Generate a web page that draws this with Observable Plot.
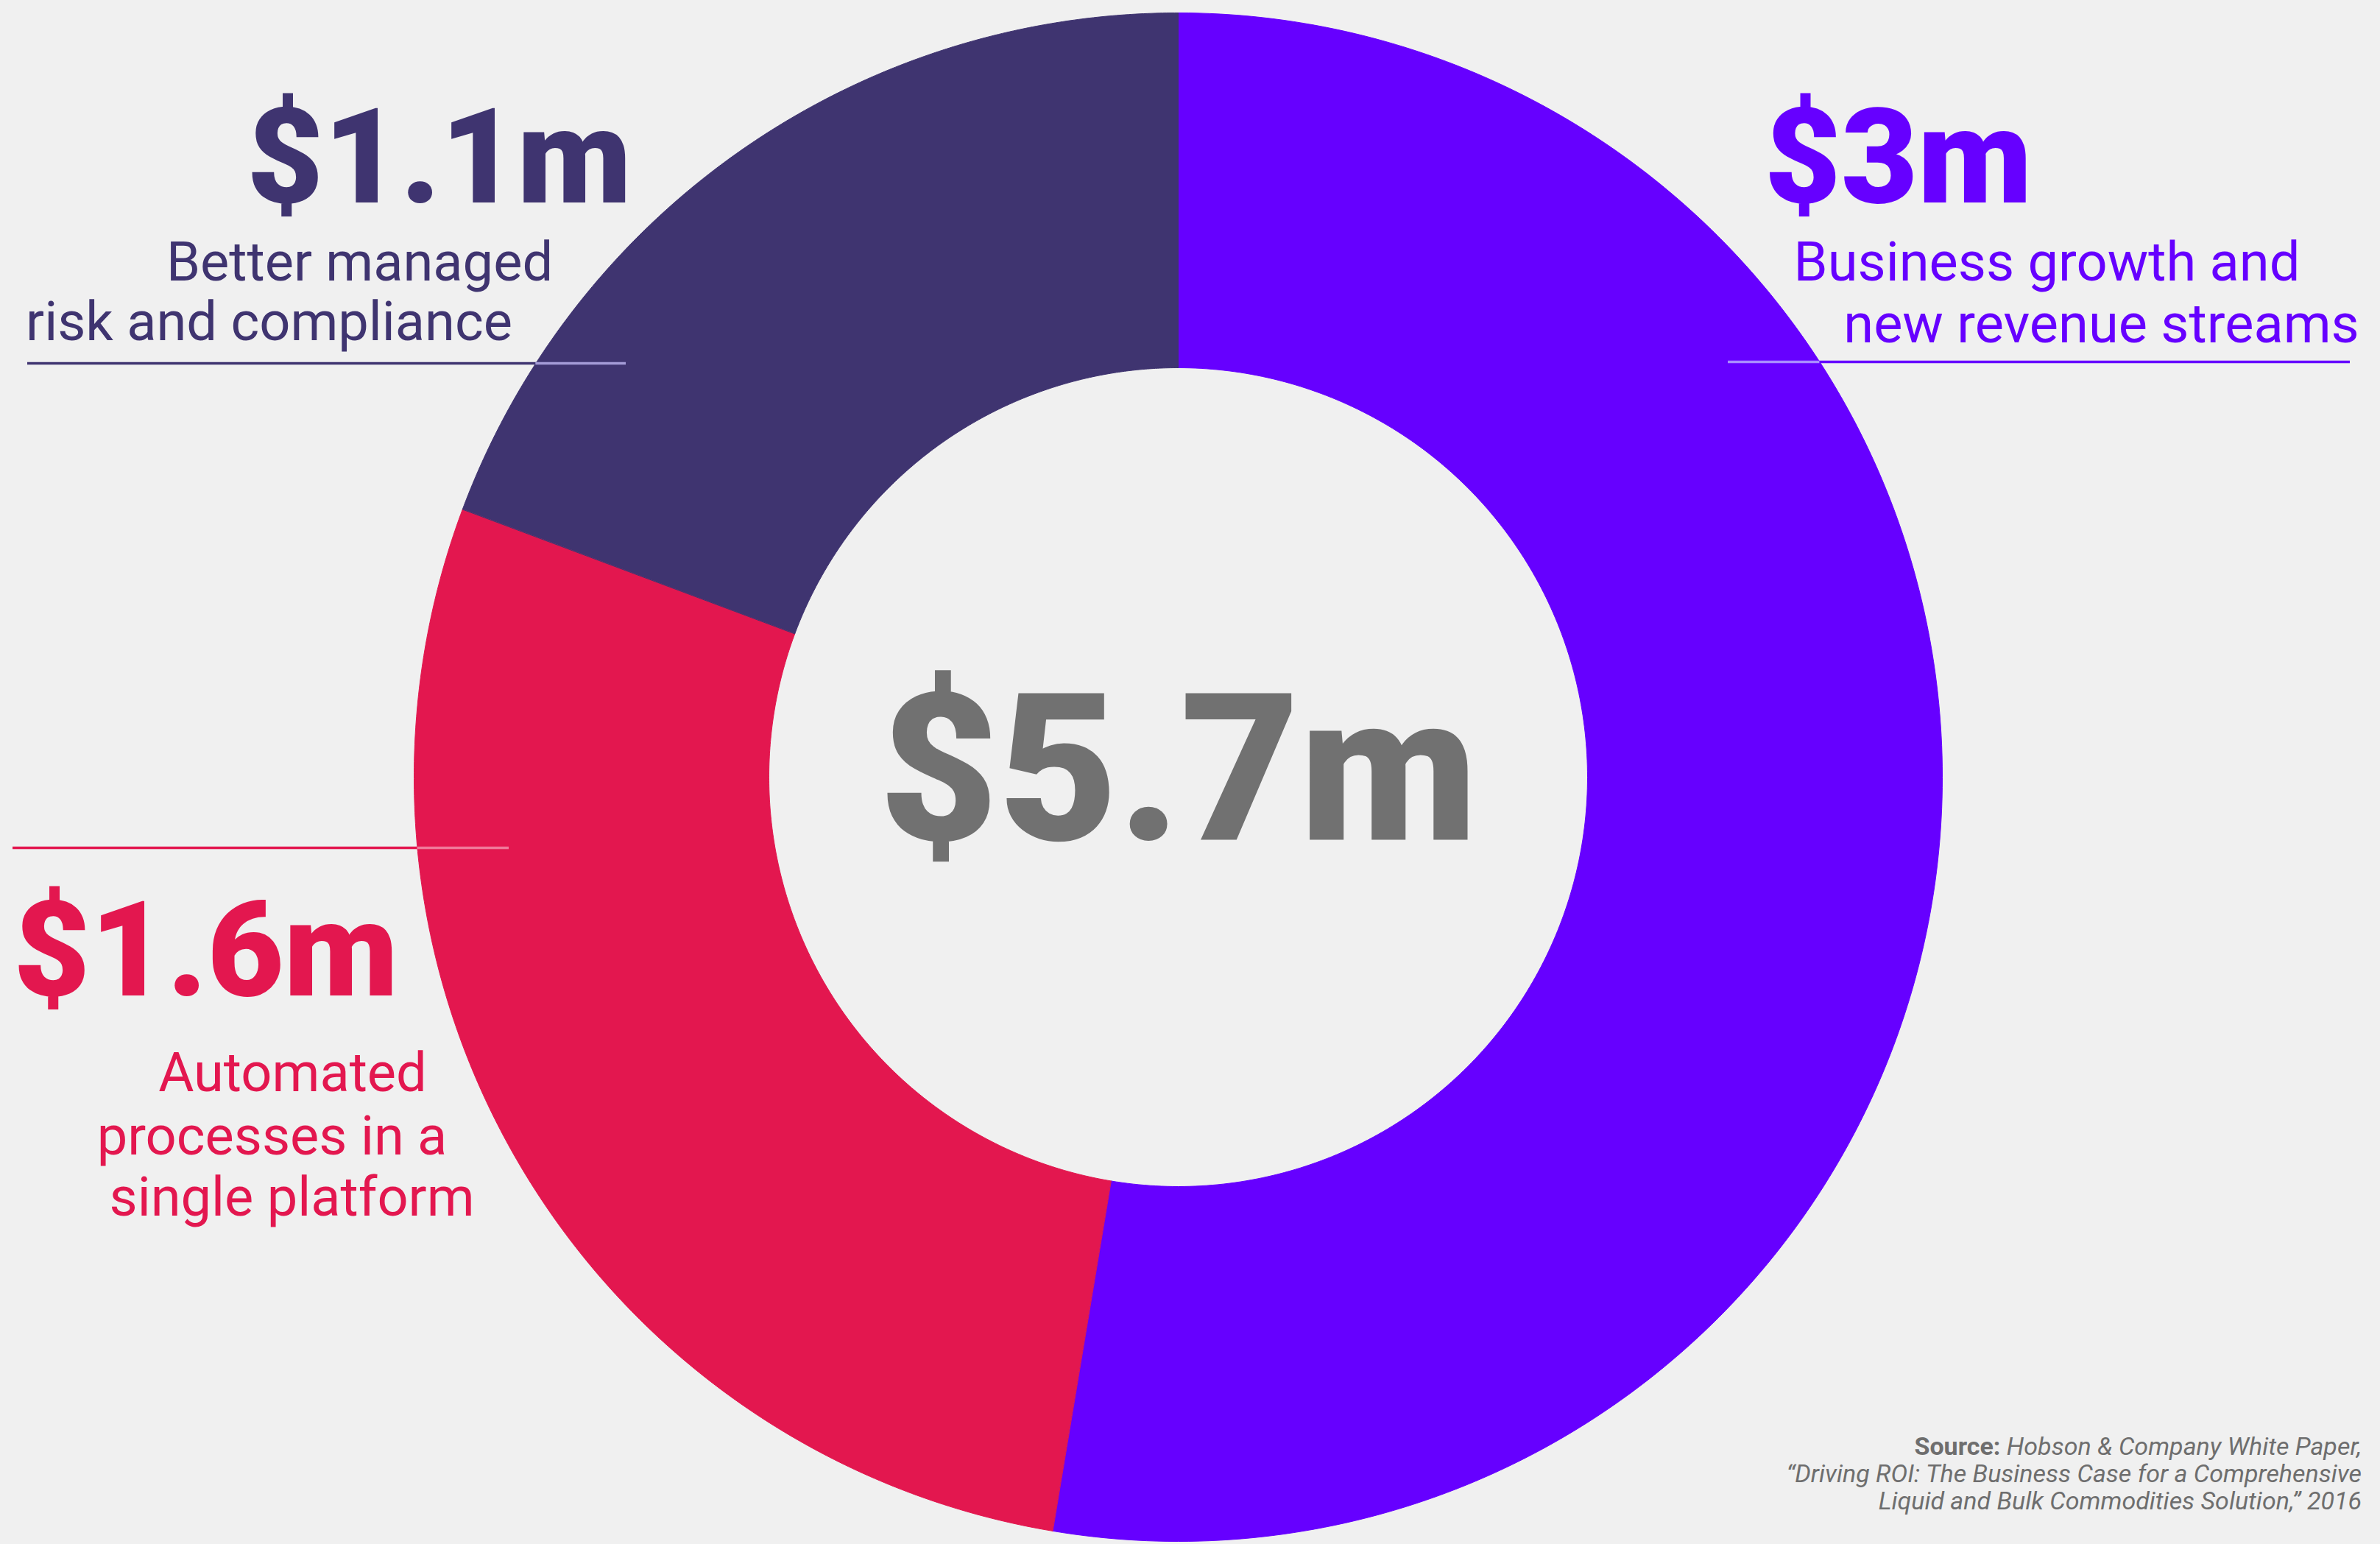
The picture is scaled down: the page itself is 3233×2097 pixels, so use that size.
<!DOCTYPE html>
<html><head><meta charset="utf-8">
<script src="https://cdn.jsdelivr.net/npm/d3@7"></script>
<script src="https://cdn.jsdelivr.net/npm/@observablehq/plot@0.6"></script>
<style>
html,body{margin:0;padding:0;background:#f0f0f0;}
#wrap{position:relative;width:3233px;height:2097px;background:#f0f0f0;overflow:hidden;font-family:Roboto,"Liberation Sans",sans-serif;}
#wrap svg{display:block;background:#f0f0f0;}
g[aria-label="value-labels"] text{letter-spacing:-10px;}
g[aria-label="total-label"] text{letter-spacing:-8px;}
#source{position:absolute;right:25px;bottom:40px;text-align:right;font-size:34px;line-height:37px;color:#6e6e6e;font-style:italic;font-family:Roboto,sans-serif;}
#source b{font-style:normal;font-weight:700;}
</style></head><body><div id="wrap"></div>
<script>
// ---- data ----
const categories = ["Business growth and new revenue streams", "Automated processes in a single platform", "Better managed risk and compliance"];
const values = [3, 1.6, 1.1];
const valueLabels = ["$3m", "$1.6m", "$1.1m"];
const descriptionLines = [
  ["Business growth and", "new revenue streams"],
  ["Automated", "processes in a", "single platform"],
  ["Better managed", "risk and compliance"]
];
const totalLabel = "$5.7m";
const sourceLabel = "Source:";
const sourceLines = [
  "Hobson & Company White Paper,",
  "\u201CDriving ROI: The Business Case for a Comprehensive",
  "Liquid and Bulk Commodities Solution,\u201D 2016"
];

// ---- styles / layout ----
const W = 3233, H = 2097;
const cx = 1600, cy = 1055, R = 1038, r = 556;
const palette = ["#6600ff", "#e3174f", "#3f3470"];
const lightPalette = ["#a98cff", "#f07a9a", "#a59cd8"];
const layout = [
  {value: {x: 2578, y: 274}, lines: [{x: 2780, y: 380}, {x: 2854, y: 464}], rule: {y: 491, x1: 2347, x2: 3192, side: "right"}},
  {value: {x: 279, y: 1351}, lines: [{x: 397, y: 1481}, {x: 369, y: 1567}, {x: 396, y: 1650}], rule: {y: 1151, x1: 17, x2: 691, side: "left"}},
  {value: {x: 596, y: 274}, lines: [{x: 488, y: 380}, {x: 365, y: 461}], rule: {y: 493, x1: 37, x2: 850, side: "left"}}
];

// ---- donut geometry from the data ----
const pie = d3.pie().sort(null).startAngle(0).endAngle(2 * Math.PI)(values);
const ringPts = [];
pie.forEach((p, i) => {
  const n = 240;
  for (let k = 0; k <= n; k++) {
    const a = p.startAngle + (p.endAngle - p.startAngle) * k / n;
    ringPts.push({cat: categories[i], x: cx + R * Math.sin(a), y: cy - R * Math.cos(a)});
  }
  for (let k = n; k >= 0; k--) {
    const a = p.startAngle + (p.endAngle - p.startAngle) * k / n;
    ringPts.push({cat: categories[i], x: cx + r * Math.sin(a), y: cy - r * Math.cos(a)});
  }
});

const valueTexts = categories.map((c, i) => ({cat: c, text: valueLabels[i], x: layout[i].value.x, y: layout[i].value.y}));
const descTexts = categories.flatMap((c, i) => descriptionLines[i].map((t, j) => ({cat: c, text: t, x: layout[i].lines[j].x, y: layout[i].lines[j].y})));
const rulesDark = categories.map((c, i) => ({cat: c, ...layout[i].rule}));
const rulesLight = rulesDark.map((d, i) => {
  const h = Math.sqrt(Math.max(0, R * R - (d.y - cy) ** 2));
  return d.side === "left"
    ? {cat: d.cat, y: d.y, x1: cx - h, x2: d.x2, col: lightPalette[i]}
    : {cat: d.cat, y: d.y, x1: d.x1, x2: cx + h, col: lightPalette[i]};
});

const chart = Plot.plot({
  width: W, height: H,
  margin: 0,
  style: {background: "#f0f0f0", fontFamily: "Roboto, sans-serif"},
  x: {domain: [0, W], range: [0, W], axis: null},
  y: {domain: [0, H], range: [0, H], axis: null},
  color: {domain: categories, range: palette},
  marks: [
    Plot.ruleY(rulesDark, {y: "y", x1: "x1", x2: "x2", stroke: "cat", strokeWidth: 3.5}),
    Plot.line(ringPts, {x: "x", y: "y", z: "cat", fill: "cat", stroke: "cat", strokeWidth: 1, curve: "linear-closed"}),
    Plot.ruleY(rulesLight, {y: "y", x1: "x1", x2: "x2", stroke: d => d.col, strokeWidth: 3.5}),
    Plot.text(valueTexts, {x: "x", y: "y", text: "text", fill: "cat", fontSize: 180, fontWeight: 900, textAnchor: "middle", lineAnchor: "bottom", ariaLabel: "value-labels"}),
    Plot.text(descTexts, {x: "x", y: "y", text: "text", fill: "cat", fontSize: 74, fontWeight: 400, textAnchor: "middle", lineAnchor: "bottom", ariaLabel: "desc-labels"}),
    Plot.text([totalLabel], {x: [cx], y: [1140], text: d => d, fill: "#717171", fontSize: 280, fontWeight: 900, textAnchor: "middle", lineAnchor: "bottom", ariaLabel: "total-label"})
  ]
});
const wrap = document.getElementById("wrap");
wrap.appendChild(chart);
const src = document.createElement("div");
src.id = "source";
src.innerHTML = `<b>${sourceLabel}</b> ${sourceLines[0].replace(/&/g, "&amp;")}<br>${sourceLines[1]}<br>${sourceLines[2]}`;
wrap.appendChild(src);
</script></body></html>
